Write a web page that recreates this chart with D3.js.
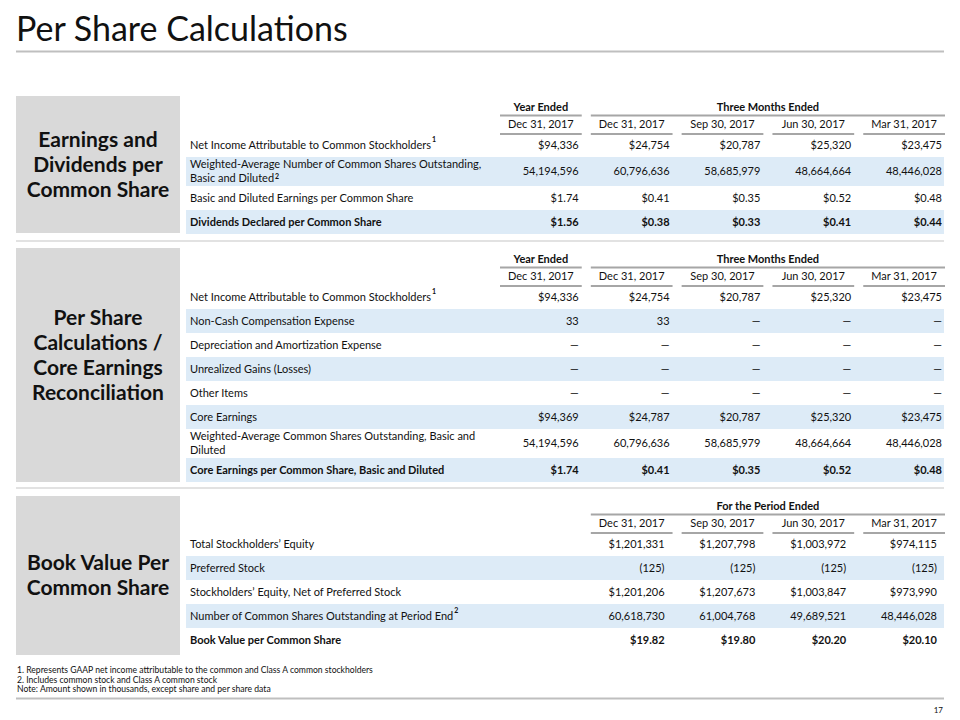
<!DOCTYPE html>
<html><head><meta charset="utf-8">
<script src="https://cdn.jsdelivr.net/npm/d3@7"></script>
<style>
html,body{margin:0;padding:0;background:#fff;}
text{font-family:Lato,"Open Sans",sans-serif;fill:#111;}
</style></head>
<body><svg id="c" width="960" height="720"></svg>
<script>
// ---------- data ----------
const pageTitle = "Per Share Calculations";
const sectionTitles = [
  ["Earnings and", "Dividends per", "Common Share"],
  ["Per Share", "Calculations /", "Core Earnings", "Reconciliation"],
  ["Book Value Per", "Common Share"]
];
const quarterHeads = ["Dec 31, 2017", "Dec 31, 2017", "Sep 30, 2017", "Jun 30, 2017", "Mar 31, 2017"];
const periodHeads = ["Dec 31, 2017", "Sep 30, 2017", "Jun 30, 2017", "Mar 31, 2017"];
const groupYear = "Year Ended";
const groupQuarter = "Three Months Ended";
const groupPeriod = "For the Period Ended";

// Table 1: Earnings and dividends
const t1Labels = [
  ["Net Income Attributable to Common Stockholders"],
  ["Weighted-Average Number of Common Shares Outstanding,", "Basic and Diluted"],
  ["Basic and Diluted Earnings per Common Share"],
  ["Dividends Declared per Common Share"]
];
const t1Notes = ["1", "2", "", ""];
const netIncome = [94336, 24754, 20787, 25320, 23475];
const waShares = [54194596, 60796636, 58685979, 48664664, 48446028];
const epsBasic = [1.74, 0.41, 0.35, 0.52, 0.48];
const dividends = [1.56, 0.38, 0.33, 0.41, 0.44];

// Table 2: Core earnings reconciliation
const t2Labels = [
  ["Net Income Attributable to Common Stockholders"],
  ["Non-Cash Compensation Expense"],
  ["Depreciation and Amortization Expense"],
  ["Unrealized Gains (Losses)"],
  ["Other Items"],
  ["Core Earnings"],
  ["Weighted-Average Common Shares Outstanding, Basic and", "Diluted"],
  ["Core Earnings per Common Share, Basic and Diluted"]
];
const t2Notes = ["1", "", "", "", "", "", "", ""];
const nonCashComp = [33, 33, 0, 0, 0];
const deprAmort = [0, 0, 0, 0, 0];
const unrealized = [0, 0, 0, 0, 0];
const otherItems = [0, 0, 0, 0, 0];
const coreEarnings = [94369, 24787, 20787, 25320, 23475];
const coreShares = [54194596, 60796636, 58685979, 48664664, 48446028];
const coreEps = [1.74, 0.41, 0.35, 0.52, 0.48];

// Table 3: Book value
const t3Labels = [
  ["Total Stockholders\u2019 Equity"],
  ["Preferred Stock"],
  ["Stockholders\u2019 Equity, Net of Preferred Stock"],
  ["Number of Common Shares Outstanding at Period End"],
  ["Book Value per Common Share"]
];
const t3Notes = ["", "", "", "2", ""];
const totalEquity = [1201331, 1207798, 1003972, 974115];
const preferredStock = [-125, -125, -125, -125];
const netEquity = [1201206, 1207673, 1003847, 973990];
const sharesOutstanding = [60618730, 61004768, 49689521, 48446028];
const bookValue = [19.82, 19.80, 20.20, 20.10];

const footnotes = [
  "1. Represents  GAAP net income attributable  to the common and Class A common stockholders",
  "2. Includes common stock and Class A common stock",
  "Note: Amount shown in thousands, except share and per share data"
];
const pageNumber = "17";

// ---------- formatting ----------
const fUsd = d3.format("$,"), fNum = d3.format(","), fUsd2 = d3.format("$.2f");
function fmt(kind, v) {
  if (v === 0) return "\u2014";
  if (v < 0) return "(" + fNum(-v) + ")";
  if (kind === "usd") return fUsd(v);
  if (kind === "usd2") return fUsd2(v);
  return fNum(v);
}

const svg = d3.select("#c");
const L = 16, R = 944;

// title
svg.append("text").attr("x", 16).attr("y", 41).attr("font-size", 34).text(pageTitle);
svg.append("line").attr("x1", L).attr("x2", R).attr("y1", 51.5).attr("y2", 51.5)
  .attr("stroke", "#bfbfbf").attr("stroke-width", 2);

// section boxes
const boxes = [
  {y0: 96, y1: 233, dy: 0},
  {y0: 248, y1: 482, dy: -10},
  {y0: 496, y1: 655, dy: 0}
];
boxes.forEach((b, i) => {
  svg.append("rect").attr("x", L).attr("y", b.y0).attr("width", 164).attr("height", b.y1 - b.y0)
    .attr("fill", "#d9d9d9");
  const lines = sectionTitles[i];
  const cy = (b.y0 + b.y1) / 2 + b.dy;
  svg.append("g").selectAll("text").data(lines).join("text")
    .attr("x", 98).attr("y", (d, j) => cy + (j - (lines.length - 1) / 2) * 25)
    .attr("dy", "0.35em").attr("text-anchor", "middle")
    .attr("font-size", 21).attr("font-weight", 700).text(d => d);
});
// separators
[241, 488].forEach(y => svg.append("line").attr("x1", L).attr("x2", R).attr("y1", y).attr("y2", y)
  .attr("stroke", "#d9d9d9").attr("stroke-width", 1.5));

// column scales
const x5 = d3.scaleBand().domain(d3.range(5)).range([500, 945]).paddingInner(0.1);
const x4 = d3.scaleBand().domain(d3.range(4)).range([x5(1), 945]).paddingInner(x5.paddingInner());

function drawTable(cfg) {
  const g = svg.append("g");
  const heights = cfg.labels.map(l => l.length > 1 ? 29 : 24);
  const starts = [cfg.y0, ...d3.cumsum(heights).map(h => cfg.y0 + h)];
  const xs = cfg.x;
  // bands
  g.selectAll("rect.band").data(cfg.labels.map((l, i) => i).filter(i => i % 2 === 1)).join("rect")
    .attr("x", 186).attr("width", R - 186)
    .attr("y", i => starts[i]).attr("height", i => heights[i]).attr("fill", "#ddebf7");
  // group headers
  cfg.groups.forEach(gr => {
    const gx0 = xs(gr.from), gx1 = xs(gr.to) + xs.bandwidth();
    g.append("text").attr("x", (gx0 + gx1) / 2).attr("y", cfg.y0 - 26).attr("dy", "0.35em")
      .attr("text-anchor", "middle").attr("font-size", 11).attr("font-weight", 700).text(gr.text);
    g.append("line").attr("x1", gx0).attr("x2", gx1).attr("y1", cfg.y0 - 17.5).attr("y2", cfg.y0 - 17.5)
      .attr("stroke", "#a6a6a6").attr("stroke-width", 2);
  });
  // column headers
  cfg.heads.forEach((h, c) => {
    g.append("text").attr("x", xs(c) + xs.bandwidth() / 2).attr("y", cfg.y0 - 9).attr("dy", "0.35em")
      .attr("text-anchor", "middle").attr("font-size", 11).text(h);
    g.append("line").attr("x1", xs(c)).attr("x2", xs(c) + xs.bandwidth())
      .attr("y1", cfg.y0 + 1).attr("y2", cfg.y0 + 1).attr("stroke", "#a6a6a6").attr("stroke-width", 2);
  });
  // rows
  cfg.labels.forEach((lines, i) => {
    const cy = starts[i] + heights[i] / 2;
    const bold = i === cfg.labels.length - 1;
    const lbl = g.append("text").attr("font-size", 11).attr("font-weight", bold ? 700 : 400);
    lines.forEach((ln, j) => {
      lbl.append("tspan").attr("x", 190).attr("y", cy + (j - (lines.length - 1) / 2) * 14)
        .attr("dy", "0.35em").text(ln);
    });
    if (cfg.notes[i]) {
      const last = lbl.selectAll("tspan").nodes().pop();
      const w = last.getComputedTextLength();
      const ly = cy + ((lines.length - 1) / 2) * 14;
      g.append("text").attr("x", 190 + w + 1).attr("y", lines.length > 1 ? ly + 0.5 : ly - 3)
        .attr("font-size", 7).attr("font-weight", 700).text(cfg.notes[i]);
    }
    const vals = cfg.values[i];
    g.append("g").selectAll("text").data(vals).join("text")
      .attr("x", (d, c) => xs(c) + xs.bandwidth() - cfg.pad).attr("y", cy).attr("dy", "0.35em")
      .attr("text-anchor", "end").attr("font-size", 11).attr("font-weight", bold ? 700 : 400)
      .text(d => fmt(cfg.formats[i], d));
  });
}

drawTable({
  y0: 133, x: x5, pad: 3, labels: t1Labels, notes: t1Notes,
  heads: quarterHeads,
  groups: [{text: groupYear, from: 0, to: 0}, {text: groupQuarter, from: 1, to: 4}],
  values: [netIncome, waShares, epsBasic, dividends],
  formats: ["usd", "num", "usd2", "usd2"]
});
drawTable({
  y0: 285, x: x5, pad: 3, labels: t2Labels, notes: t2Notes,
  heads: quarterHeads,
  groups: [{text: groupYear, from: 0, to: 0}, {text: groupQuarter, from: 1, to: 4}],
  values: [netIncome, nonCashComp, deprAmort, unrealized, otherItems, coreEarnings, coreShares, coreEps],
  formats: ["usd", "num", "num", "num", "num", "usd", "num", "usd2"]
});
drawTable({
  y0: 532, x: x4, pad: 8, labels: t3Labels, notes: t3Notes,
  heads: periodHeads,
  groups: [{text: groupPeriod, from: 0, to: 3}],
  values: [totalEquity, preferredStock, netEquity, sharesOutstanding, bookValue],
  formats: ["usd", "num", "usd", "num", "usd2"]
});

// footnotes
svg.append("g").selectAll("text").data(footnotes).join("text")
  .attr("x", 17).attr("y", (d, i) => 670 + i * 9.5).attr("dy", "0.35em")
  .attr("font-size", 8.6).text(d => d);
svg.append("line").attr("x1", L).attr("x2", R).attr("y1", 698.5).attr("y2", 698.5)
  .attr("stroke", "#bfbfbf").attr("stroke-width", 2);
svg.append("text").attr("x", 943).attr("y", 710).attr("dy", "0.35em").attr("text-anchor", "end")
  .attr("font-size", 8).text(pageNumber);
</script></body></html>
